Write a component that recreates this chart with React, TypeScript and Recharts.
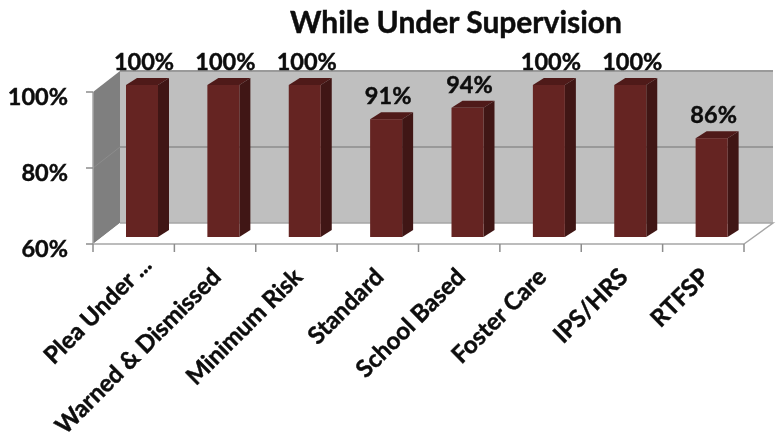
import React from 'react';
import { BarChart, Bar, XAxis, YAxis, LabelList, usePlotArea } from 'recharts';

const categories = ['Plea Under ...', 'Warned & Dismissed', 'Minimum Risk', 'Standard', 'School Based', 'Foster Care', 'IPS/HRS', 'RTFSP'];
const values = [100, 100, 100, 91, 94, 100, 100, 86];
const yTicks = [60, 80, 100];

const chartData = categories.map((name, i) => ({ name, value: values[i] }));

const FONT = 'Lato, "Open Sans", sans-serif';
const INK = '#0d0d0d';
// Calibri bold in the original is heavier than Lato bold
const TEXT_WEIGHT = { fontFamily: FONT, fontWeight: 700, fill: INK, stroke: INK, strokeWidth: 0.45 };

// depth of the fake 3D box, and how far the bars sit inside it
const WALL_DX = 27;
const WALL_DY = -21;
const BAR_SHIFT_X = 8;
const BAR_SHIFT_Y = -7;
const BAR_DX = 11;
const BAR_DY = -7;

function Walls() {
  const plot = usePlotArea();
  if (!plot) return null;
  const left = plot.x;
  const right = plot.x + plot.width;
  const top = plot.y;
  const bottom = plot.y + plot.height;
  const mid = (top + bottom) / 2;
  const backLeft = left + WALL_DX;
  const backRight = right + WALL_DX + 2;
  const ticks = categories.map((_, i) => left + ((i + 1) * plot.width) / categories.length);

  return (
    <g>
      <polygon
        points={`${left},${top} ${backLeft},${top + WALL_DY} ${backLeft},${bottom + WALL_DY} ${left},${bottom}`}
        fill="#7f7f7f"
      />
      <rect x={backLeft} y={top + WALL_DY} width={backRight - backLeft} height={plot.height} fill="#bfbfbf" />
      <line x1={backLeft} y1={top + WALL_DY} x2={backRight} y2={top + WALL_DY} stroke="#9a9a9a" strokeWidth={2} />
      <line x1={backLeft} y1={mid + WALL_DY} x2={backRight} y2={mid + WALL_DY} stroke="#8c8c8c" strokeWidth={1.5} />
      <line x1={left} y1={mid} x2={backLeft} y2={mid + WALL_DY} stroke="#8c8c8c" strokeWidth={1} />
      <polygon
        points={`${left},${bottom} ${backLeft},${bottom + WALL_DY} ${backRight},${bottom + WALL_DY} ${right},${bottom}`}
        fill="#ffffff"
      />
      <polyline
        points={`${backLeft},${bottom + WALL_DY} ${backRight},${bottom + WALL_DY} ${right},${bottom}`}
        fill="none"
        stroke="#a6a6a6"
        strokeWidth={1.5}
      />
      <line x1={left} y1={top} x2={left} y2={bottom} stroke="#a6a6a6" strokeWidth={1.5} />
      <line x1={left} y1={bottom} x2={right} y2={bottom} stroke="#a6a6a6" strokeWidth={1.5} />
      <line x1={left} y1={bottom} x2={left} y2={bottom + 8} stroke="#8c8c8c" strokeWidth={1.5} />
      {ticks.map((x) => (
        <line key={x} x1={x} y1={bottom} x2={x} y2={bottom + 8} stroke="#8c8c8c" strokeWidth={1.5} />
      ))}
    </g>
  );
}

function Bar3D({ x, y, width, height }: any) {
  const fx = x + BAR_SHIFT_X;
  const fy = y + BAR_SHIFT_Y;
  const fr = fx + width;
  const fb = fy + height;
  return (
    <g>
      <polygon
        points={`${fx},${fy} ${fx + BAR_DX},${fy + BAR_DY} ${fr + BAR_DX},${fy + BAR_DY} ${fr},${fy}`}
        fill="#4f1a19"
      />
      <polygon
        points={`${fr},${fy} ${fr + BAR_DX},${fy + BAR_DY} ${fr + BAR_DX},${fb + BAR_DY} ${fr},${fb}`}
        fill="#401615"
      />
      <rect x={fx} y={fy} width={width} height={height} fill="#652422" />
    </g>
  );
}

function ValueLabel({ x, y, width, value }: any) {
  return (
    <text
      x={x + width / 2 + BAR_SHIFT_X + 2}
      y={y + BAR_SHIFT_Y - 15}
      textAnchor="middle"
      fontSize={23.5}
      {...TEXT_WEIGHT}
    >
      {value}%
    </text>
  );
}

function CategoryTick({ x, y, payload }: any) {
  // the truncated label sits further up its diagonal in the original
  const nudge = payload.value.endsWith('...') ? 12 : 0;
  return (
    <text
      transform={`translate(${x + 3 + nudge},${y + 22 - nudge}) rotate(-45)`}
      textAnchor="end"
      dominantBaseline="middle"
      fontSize={24}
      {...TEXT_WEIGHT}
    >
      {payload.value}
    </text>
  );
}

function ValueTick({ x, y, payload }: any) {
  return (
    <text x={x} y={y + 13} textAnchor="end" fontSize={23.5} {...TEXT_WEIGHT}>
      {payload.value}%
    </text>
  );
}

export default function App() {
  return (
    <div style={{ position: 'absolute', left: 0, top: 0, width: 776, height: 440, background: '#fff', filter: 'blur(0.4px)' }}>
      <BarChart
        width={776}
        height={440}
        data={chartData}
        margin={{ top: 92, right: 32, bottom: 0, left: 0 }}
        barSize={32}
      >
        <Walls />
        <text x={456} y={33} textAnchor="middle" fontSize={30} {...TEXT_WEIGHT}>
          While Under Supervision
        </text>
        <XAxis
          dataKey="name"
          height={196}
          interval={0}
          axisLine={false}
          tickLine={false}
          tick={<CategoryTick />}
        />
        <YAxis
          width={93}
          domain={[60, 100]}
          ticks={yTicks}
          axisLine={false}
          tickSize={7}
          tickMargin={18}
          tickLine={{ stroke: '#8c8c8c', strokeWidth: 1.5 }}
          tick={<ValueTick />}
        />
        <Bar dataKey="value" isAnimationActive={false} shape={<Bar3D />}>
          <LabelList dataKey="value" content={<ValueLabel />} />
        </Bar>
      </BarChart>
    </div>
  );
}
